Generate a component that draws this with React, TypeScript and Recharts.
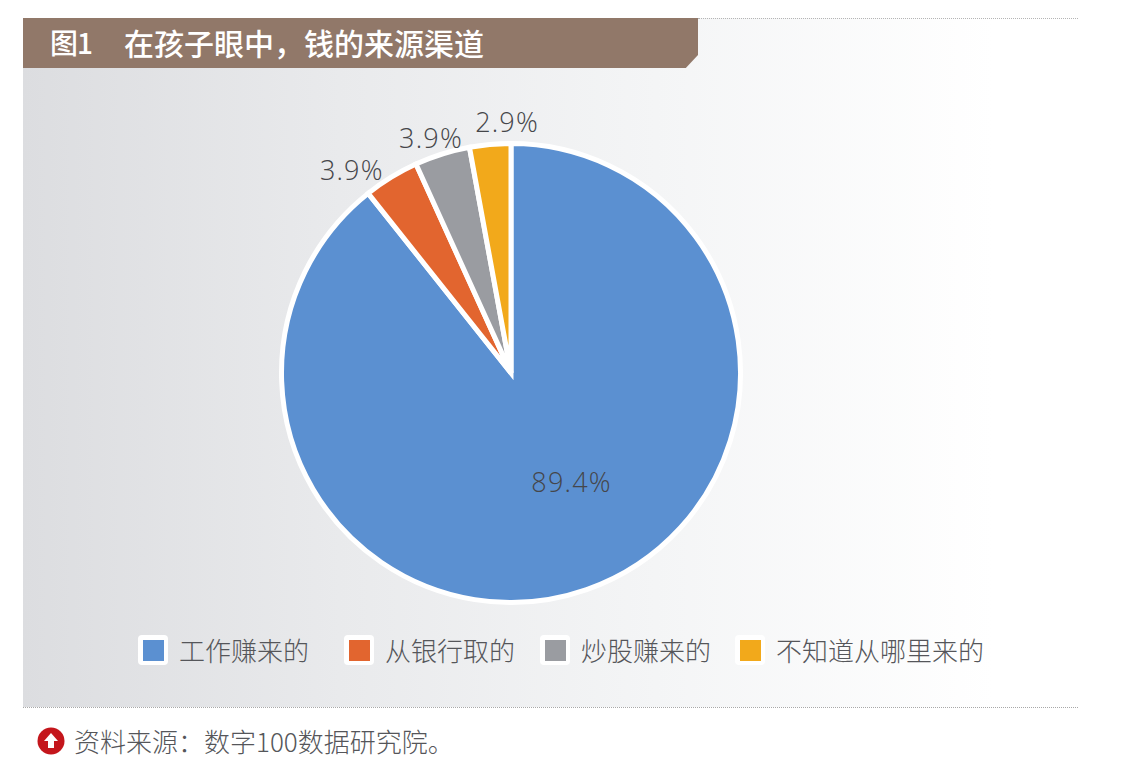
import { PieChart, Pie, Cell, Legend } from 'recharts';

const categories = ['工作赚来的', '从银行取的', '炒股赚来的', '不知道从哪里来的'];
const shares = [89.4, 3.9, 3.9, 2.9];
const colors = ['#5b90d1', '#e2652f', '#9a9ca1', '#f2a91b'];

const data = categories.map((name, i) => ({ name, value: shares[i] }));

const CJK = '"Noto Sans CJK SC", sans-serif';
const RAD = Math.PI / 180;

// labels in the picture sit a little away from the plain radial spot
const labelRadius = [0.55, 1.12, 1.09, 1.1];
const labelNudge = [
  [19, -11],
  [-25, 16],
  [-5, 3],
  [19, 0],
];
const legendLeft = [138, 344, 540, 735];

function renderLabel({ cx, cy, midAngle, outerRadius, index, value }: any) {
  const r = outerRadius * labelRadius[index];
  const x = cx + r * Math.cos(-midAngle * RAD) + labelNudge[index][0];
  const y = cy + r * Math.sin(-midAngle * RAD) + labelNudge[index][1];
  return (
    <text
      x={x}
      y={y}
      textAnchor="middle"
      dominantBaseline="central"
      fill="#45464a"
      fontFamily='"Open Sans", sans-serif'
      fontWeight={300}
      fontSize={27}
      letterSpacing={1.2}
    >
      {value.toFixed(1)}%
    </text>
  );
}

function LegendBox({ payload }: any) {
  return (
    <div style={{ position: 'relative', width: 1142, height: 40 }}>
      {(payload || []).map((item: any, i: number) => (
        <div key={item.value} style={{ position: 'absolute', left: legendLeft[i], top: 0, display: 'flex', alignItems: 'center', whiteSpace: 'nowrap' }}>
          <div style={{ width: 30, height: 30, background: '#fff', borderRadius: 4, display: 'flex', alignItems: 'center', justifyContent: 'center' }}>
            <div style={{ width: 21, height: 21, background: item.color }} />
          </div>
          <span style={{ marginLeft: 11, fontFamily: CJK, fontWeight: 300, fontSize: 26, lineHeight: '30px', color: '#55565a' }}>{item.value}</span>
        </div>
      ))}
    </div>
  );
}

export default function App() {
  return (
    <div style={{ position: 'fixed', left: 0, top: 0, width: 1142, height: 778, background: '#fff', overflow: 'hidden' }}>
      {/* grey panel */}
      <div style={{ position: 'absolute', left: 23, top: 18, width: 1055, height: 689, background: 'linear-gradient(90deg, #dcdde0 0%, #e9eaec 30%, #f4f5f6 60%, #ffffff 92%)' }} />
      <div style={{ position: 'absolute', left: 698, top: 18, width: 380, borderTop: '1px dotted #b5b5b5' }} />
      <div style={{ position: 'absolute', left: 23, top: 707, width: 1055, borderTop: '1px dotted #a8a8a8' }} />

      {/* title band */}
      <div style={{ position: 'absolute', left: 23, top: 18, width: 675, height: 50, background: '#917869', clipPath: 'polygon(0 0, 100% 0, 100% 74%, 98.2% 100%, 0 100%)' }} />
      <div style={{ position: 'absolute', left: 50, top: 18, height: 50, lineHeight: '48px', fontFamily: CJK, fontWeight: 500, fontSize: 28, letterSpacing: -1, color: '#fff', whiteSpace: 'nowrap' }}>图1</div>
      <div style={{ position: 'absolute', left: 124, top: 18, height: 50, lineHeight: '48px', fontFamily: CJK, fontWeight: 500, fontSize: 30, color: '#fff', whiteSpace: 'nowrap' }}>在孩子眼中，钱的来源渠道</div>

      <div style={{ position: 'absolute', left: 0, top: 0 }}>
        <PieChart width={1142} height={778} margin={{ top: 0, right: 0, bottom: 0, left: 0 }}>
          <Pie
            data={data}
            dataKey="value"
            nameKey="name"
            cx={511}
            cy={373}
            outerRadius={229.5}
            startAngle={90}
            endAngle={-270}
            stroke="#fff"
            strokeWidth={5}
            label={renderLabel}
            labelLine={false}
            isAnimationActive={false}
          >
            {data.map((d, i) => (
              <Cell key={d.name} fill={colors[i]} />
            ))}
          </Pie>
          <Legend itemSorter={null} content={<LegendBox />} wrapperStyle={{ position: 'absolute', left: 0, top: 635, width: 1142 }} />
        </PieChart>
      </div>

      {/* source line */}
      <svg style={{ position: 'absolute', left: 37, top: 727 }} width={28} height={28} viewBox="0 0 28 28">
        <circle cx={14} cy={14} r={13.5} fill="#c4161c" />
        <path d="M14 6 L21 14 L17 14 L17 21 L11 21 L11 14 L7 14 Z" fill="#fff" />
      </svg>
      <div style={{ position: 'absolute', left: 74, top: 724, lineHeight: '34px', fontFamily: CJK, fontWeight: 300, fontSize: 26, color: '#55565a', whiteSpace: 'nowrap' }}>资料来源：数字100数据研究院。</div>
    </div>
  );
}
